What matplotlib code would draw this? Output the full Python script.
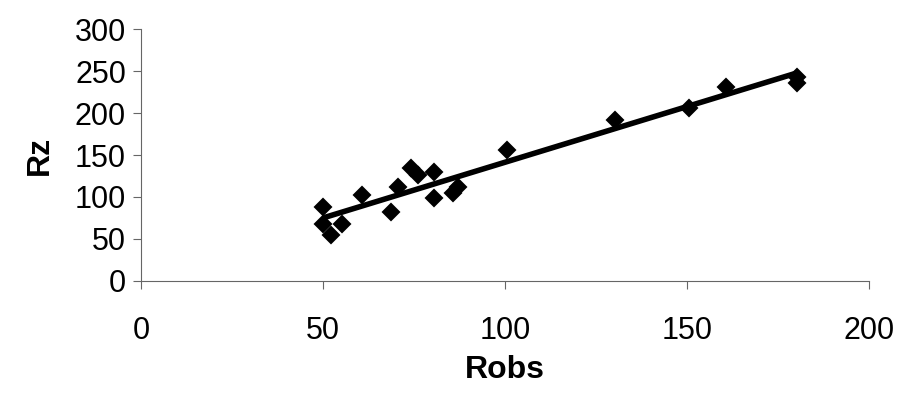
import numpy as np
import matplotlib
matplotlib.use("Agg")
import matplotlib.pyplot as plt

plt.rcParams['font.family'] = ['Liberation Sans', 'DejaVu Sans']

robs = [50, 50, 52, 55, 60.5, 68.5, 70.5, 74, 76, 80.5, 80.5, 85.5, 87, 100.5, 130, 150.5, 160.5, 180, 180]
rz = [88, 68, 55, 68, 102, 82, 112, 134, 126, 130, 99, 105, 112, 156, 192, 206, 231, 243, 236]

x_ticks = [0, 50, 100, 150, 200]
y_ticks = [0, 50, 100, 150, 200, 250, 300]

fig = plt.figure(figsize=(9, 3.94), dpi=100)
ax = fig.add_axes([0.157, 0.287, 0.809, 0.639])

ax.plot(robs, rz, linestyle='none', marker='D', markersize=8, color='black',
        markeredgewidth=1.5, zorder=3)

slope, intercept = np.polyfit(robs, rz, 1)
xl = np.array([min(robs), max(robs)])
ax.plot(xl, slope * xl + intercept, color='black', linewidth=4, solid_capstyle='butt', zorder=2)

ax.set_xlim(0, 200)
ax.set_ylim(0, 300)
ax.set_xticks(x_ticks)
ax.set_yticks(y_ticks)
ax.tick_params(axis='both', labelsize=22, length=6, width=0.8, color='#666666', direction='out')
ax.tick_params(axis='x', pad=19)
ax.tick_params(axis='y', pad=5)
for s in ['top', 'right']:
    ax.spines[s].set_visible(False)
for s in ['left', 'bottom']:
    ax.spines[s].set_color('#666666')
    ax.spines[s].set_linewidth(0.8)

ax.set_xlabel('Robs', fontsize=23, fontweight='bold', labelpad=7)
ax.set_ylabel('Rz', fontsize=23, fontweight='bold', labelpad=14)

fig.savefig('out.png', dpi=100)
